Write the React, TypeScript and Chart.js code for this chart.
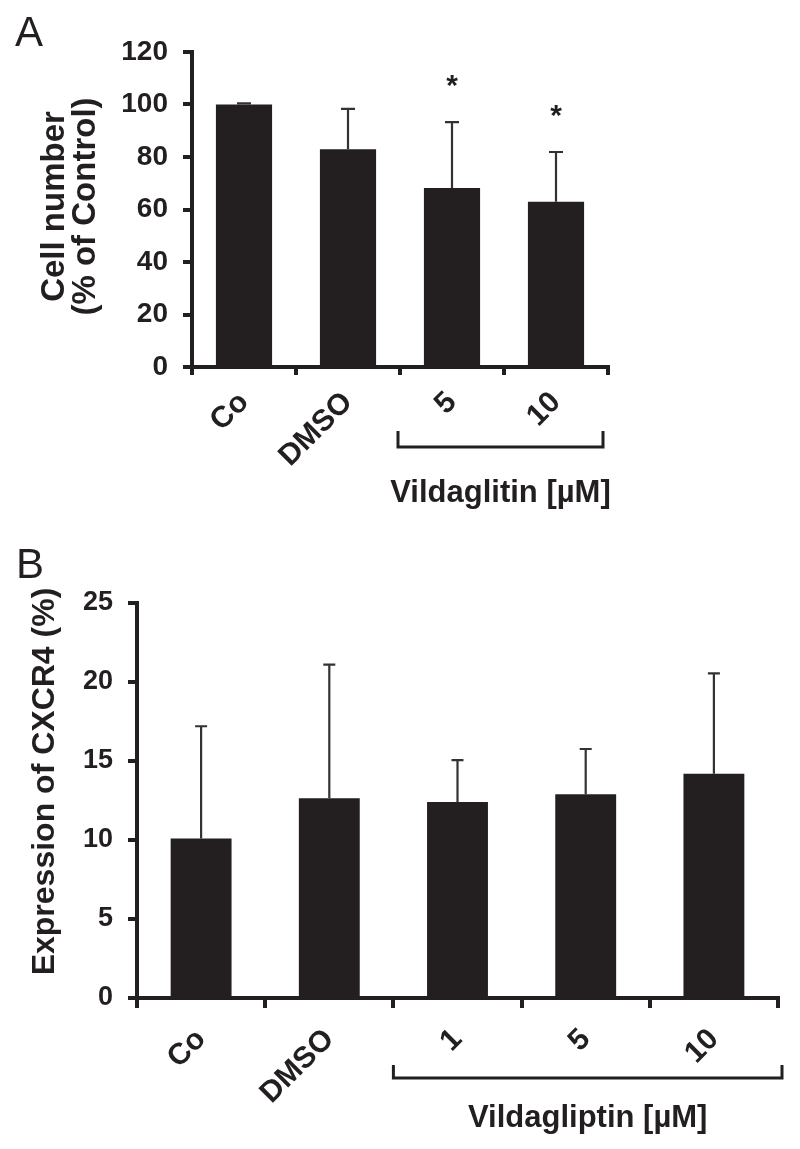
import React, { useEffect, useRef } from 'react';
import { Chart, registerables } from 'chart.js';

Chart.register(...registerables);

// ---------- Panel A data ----------
const aCategories = ['Co', 'DMSO', '5', '10'];
const aValues = [100, 83, 68.2, 63];
const aErrors = [0.4, 15.3, 25.1, 18.9];
const aSignificance = ['', '', '*', '*'];
const aYTicks = [0, 20, 40, 60, 80, 100, 120];
const aYTitle = ['Cell number', '(% of Control)'];
const aGroupLabel = 'Vildaglitin [µM]';

// ---------- Panel B data ----------
const bCategories = ['Co', 'DMSO', '1', '5', '10'];
const bValues = [10.1, 12.65, 12.4, 12.9, 14.2];
const bErrors = [7.1, 8.45, 2.66, 2.86, 6.35];
const bSignificance = ['', '', '', '', ''];
const bYTicks = [0, 5, 10, 15, 20, 25];
const bYTitle = ['Expression of CXCR4 (%)'];
const bGroupLabel = 'Vildagliptin [µM]';

const INK = '#231f20';
const FONT = '"Liberation Sans", Arial, Helvetica, sans-serif';

const annotPlugin = {
  id: 'annot',
  afterDatasetsDraw(chart: any, _args: any, opts: any) {
    const { ctx, chartArea } = chart;
    const x = chart.scales.x;
    const y = chart.scales.y;
    const meta = chart.getDatasetMeta(0);
    const data = chart.data.datasets[0].data as number[];
    ctx.save();
    // error bars
    ctx.strokeStyle = opts.errColor;
    ctx.lineWidth = opts.errWidth;
    meta.data.forEach((bar: any, i: number) => {
      const v = data[i];
      const top = y.getPixelForValue(v);
      const et = y.getPixelForValue(v + opts.errors[i]);
      const cx = bar.x;
      ctx.beginPath();
      ctx.moveTo(cx, top);
      ctx.lineTo(cx, et);
      ctx.moveTo(cx - opts.capHalf, et);
      ctx.lineTo(cx + opts.capHalf, et);
      ctx.stroke();
      const mark = opts.marks[i];
      if (mark) {
        ctx.fillStyle = INK;
        ctx.font = `bold 30px ${FONT}`;
        ctx.textAlign = 'center';
        ctx.textBaseline = 'alphabetic';
        ctx.fillText(mark, cx, et - 27);
      }
    });
    // y-axis title (rotated)
    ctx.fillStyle = INK;
    ctx.font = `bold ${opts.titleSize}px ${FONT}`;
    ctx.textAlign = 'center';
    ctx.textBaseline = 'middle';
    const cy = (chartArea.top + chartArea.bottom) / 2 + opts.titleShift;
    opts.title.forEach((line: string, k: number) => {
      ctx.save();
      ctx.translate(opts.titleX + k * opts.titleLineGap, cy);
      ctx.rotate(-Math.PI / 2);
      ctx.fillText(line, 0, 0);
      ctx.restore();
    });
    // bracket
    const n = data.length;
    const x1 = x.getPixelForValue(1.5) + opts.bracketLeftAdj;
    const x2 = x.getPixelForValue(n - 0.5) + opts.bracketRightAdj;
    const by = chartArea.bottom + opts.bracketOffset;
    ctx.strokeStyle = INK;
    ctx.lineWidth = 3;
    ctx.beginPath();
    ctx.moveTo(x1, by - opts.bracketArm);
    ctx.lineTo(x1, by);
    ctx.lineTo(x2, by);
    ctx.lineTo(x2, by - opts.bracketArm);
    ctx.stroke();
    ctx.font = `bold 31px ${FONT}`;
    ctx.textAlign = 'center';
    ctx.textBaseline = 'middle';
    ctx.fillText(opts.groupLabel, (x1 + x2) / 2, chartArea.bottom + opts.labelOffset);
    // panel letter
    ctx.font = `${opts.letterSize}px ${FONT}`;
    ctx.textAlign = 'left';
    ctx.textBaseline = 'alphabetic';
    ctx.fillText(opts.letter, opts.letterX, opts.letterY);
    ctx.restore();
  },
};

function makeConfig(p: any) {
  return {
    type: 'bar',
    data: {
      labels: p.categories,
      datasets: [
        {
          data: p.values,
          backgroundColor: INK,
          borderWidth: 0,
          barPercentage: p.barPct,
          categoryPercentage: 1,
        },
      ],
    },
    plugins: [annotPlugin],
    options: {
      responsive: false,
      animation: false,
      devicePixelRatio: 1,
      layout: { padding: { left: 0, right: p.padRight, top: p.padTop, bottom: 0 } },
      plugins: {
        legend: { display: false },
        tooltip: { enabled: false },
        annot: {
          errors: p.errors,
          marks: p.marks,
          errColor: '#333',
          errWidth: 2.2,
          capHalf: p.capHalf,
          title: p.yTitle,
          titleSize: p.yTitleSize,
          titleX: p.titleX,
          titleLineGap: p.titleLineGap,
          titleShift: p.titleShift,
          bracketOffset: 80,
          bracketArm: p.bracketArm,
          bracketLeftAdj: p.bracketLeftAdj,
          bracketRightAdj: p.bracketRightAdj,
          labelOffset: p.labelOffset,
          groupLabel: p.groupLabel,
          letter: p.letter,
          letterSize: 42,
          letterX: p.letterX,
          letterY: p.letterY,
        },
      },
      scales: {
        x: {
          type: 'category',
          offset: true,
          grid: {
            display: true,
            offset: true,
            drawOnChartArea: false,
            drawTicks: true,
            tickLength: p.xTickLen,
            color: INK,
            lineWidth: 4,
          },
          border: { display: true, color: INK, width: 4 },
          ticks: {
            autoSkip: false,
            minRotation: 45,
            maxRotation: 45,
            padding: p.xTickPad,
            color: INK,
            font: { family: FONT, size: 30, weight: 'bold' },
          },
          afterFit: (s: any) => {
            s.height = p.xHeight;
          },
        },
        y: {
          min: p.yTicks[0],
          max: p.yTicks[p.yTicks.length - 1],
          afterBuildTicks: (s: any) => {
            s.ticks = p.yTicks.map((v: number) => ({ value: v }));
          },
          grid: {
            display: true,
            drawOnChartArea: false,
            drawTicks: true,
            tickLength: 9,
            color: INK,
            lineWidth: 4,
          },
          border: { display: true, color: INK, width: 4 },
          ticks: {
            padding: 15,
            color: INK,
            font: { family: FONT, size: p.yTickSize, weight: 'bold' },
          },
          title: { display: false },
          afterFit: (s: any) => {
            s.width = p.yWidth;
          },
        },
      },
    },
  };
}

const panelA = {
  categories: aCategories,
  values: aValues,
  errors: aErrors,
  marks: aSignificance,
  yTicks: aYTicks,
  yTitle: aYTitle,
  groupLabel: aGroupLabel,
  barPct: 0.54,
  padRight: 192,
  padTop: 52,
  xHeight: 163,
  yWidth: 192,
  xTickLen: 8,
  xTickPad: 10,
  yTickSize: 28,
  yTitleSize: 33,
  titleX: 55,
  titleLineGap: 31,
  titleShift: -3,
  capHalf: 7,
  bracketArm: 16,
  bracketLeftAdj: -2,
  bracketRightAdj: -5,
  labelOffset: 126,
  letter: 'A',
  letterX: 15,
  letterY: 46,
};

const panelB = {
  categories: bCategories,
  values: bValues,
  errors: bErrors,
  marks: bSignificance,
  yTicks: bYTicks,
  yTitle: bYTitle,
  groupLabel: bGroupLabel,
  barPct: 0.475,
  padRight: 22,
  padTop: 73,
  xHeight: 151,
  yWidth: 137,
  xTickLen: 10,
  xTickPad: 14,
  yTickSize: 27,
  yTitleSize: 32,
  titleX: 45,
  titleLineGap: 0,
  titleShift: -19,
  capHalf: 6,
  bracketArm: 13,
  bracketLeftAdj: 0,
  bracketRightAdj: 4,
  labelOffset: 120,
  letter: 'B',
  letterX: 16,
  letterY: 48,
};

function Panel({ cfg, width, height, top }: any) {
  const ref = useRef<HTMLCanvasElement | null>(null);
  useEffect(() => {
    if (!ref.current) return;
    const chart = new Chart(ref.current, makeConfig(cfg) as any);
    return () => chart.destroy();
  }, [cfg]);
  return (
    <canvas
      ref={ref}
      width={width}
      height={height}
      style={{ position: 'absolute', left: 0, top, width, height, display: 'block' }}
    />
  );
}

export default function App() {
  return (
    <div style={{ position: 'absolute', left: 0, top: 0, width: 800, height: 1149, background: '#fff' }}>
      <Panel cfg={panelA} width={800} height={530} top={0} />
      <Panel cfg={panelB} width={800} height={619} top={530} />
    </div>
  );
}
